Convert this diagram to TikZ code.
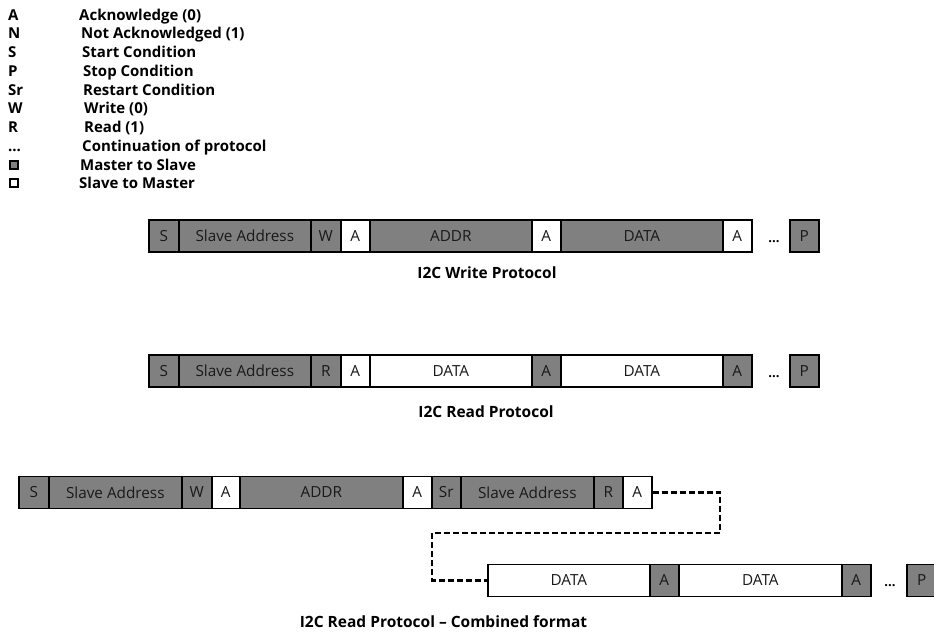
\documentclass[tikz,border=0pt]{standalone}
\usepackage{fontspec}
\setmainfont{Open Sans}
\begin{document}
\begin{tikzpicture}[x=1pt,y=-1pt,
  cellbase/.style={draw=black, line width=1.6pt, minimum height=32pt, inner sep=0pt,
    anchor=west, text=black!90, font=\fontsize{15.3}{17}\selectfont},
  mcell/.style={cellbase, fill=black!50},
  scell/.style={cellbase, fill=white},
  legtxt/.style={anchor=base west, inner sep=0pt, font=\bfseries\fontsize{15}{17}\selectfont},
  legbox/.style={draw=black, line width=1.3pt, minimum size=8pt, inner sep=0pt},
  caption/.style={anchor=base, inner sep=0pt, font=\bfseries\fontsize{15.5}{17}\selectfont},
  dots/.style={anchor=base, inner sep=0pt, font=\bfseries\fontsize{13}{15}\selectfont},
  link/.style={draw=black, line width=2.4pt, dash pattern=on 6pt off 3pt}]
\useasboundingbox (0,0) rectangle (934,633);

% cell: name, left x, width, centre y, style, label
\newcommand\pcell[6]{\node[#5, minimum width=#3pt] (#1) at (#2,#4) {#6};}

% ---- legend (positions are baselines) ----
\node[legtxt] (kA)  at (8,20.5)  {A};   \node[legtxt] (tA)  at (79,20.5)  {Acknowledge (0)};
\node[legtxt] (kN)  at (8,38.5)  {N};   \node[legtxt] (tN)  at (81,38.5)  {Not Acknowledged (1)};
\node[legtxt] (kS)  at (8,57.5)  {S};   \node[legtxt] (tS)  at (82,57.5)  {Start Condition};
\node[legtxt] (kP)  at (8,76)    {P};   \node[legtxt] (tP)  at (83,76)    {Stop Condition};
\node[legtxt] (kSr) at (8,95)    {Sr};  \node[legtxt] (tSr) at (83,95)    {Restart Condition};
\node[legtxt] (kW)  at (8,113.5) {W};   \node[legtxt] (tW)  at (84,113.5) {Write (0)};
\node[legtxt] (kR)  at (8,132.5) {R};   \node[legtxt] (tR)  at (84,132.5) {Read (1)};
\node[legtxt] (kC)  at (8,151.5) {...}; \node[legtxt] (tC)  at (82,151.5) {Continuation of protocol};
\node[legbox, fill=black!50] (kM) at (14,165) {};
\node[legtxt] (tM)  at (80,170)   {Master to Slave};
\node[legbox, fill=white] (kSl) at (14,183) {};
\node[legtxt] (tSl) at (79,188)   {Slave to Master};

% ---- I2C write protocol ----
\pcell{w1}{148}{30}{236}{mcell}{S}
\pcell{w2}{178}{132}{236}{mcell}{Slave Address}
\pcell{w3}{310}{30}{236}{mcell}{W}
\pcell{w4}{340}{29}{236}{scell}{A}
\pcell{w5}{369}{162}{236}{mcell}{ADDR}
\pcell{w6}{531}{29}{236}{scell}{A}
\pcell{w7}{560}{162}{236}{mcell}{DATA}
\pcell{w8}{722}{29}{236}{scell}{A}
\node[dots] (w9) at (774,242) {...};
\pcell{w10}{789}{29}{236}{mcell}{P}
\node[caption] (wcap) at (487,278) {I2C Write Protocol};

% ---- I2C read protocol ----
\pcell{r1}{148}{30}{371}{mcell}{S}
\pcell{r2}{178}{132}{371}{mcell}{Slave Address}
\pcell{r3}{310}{30}{371}{mcell}{R}
\pcell{r4}{340}{29}{371}{scell}{A}
\pcell{r5}{369}{162}{371}{scell}{DATA}
\pcell{r6}{531}{29}{371}{mcell}{A}
\pcell{r7}{560}{162}{371}{scell}{DATA}
\pcell{r8}{722}{29}{371}{mcell}{A}
\node[dots] (r9) at (774,377) {...};
\pcell{r10}{789}{29}{371}{mcell}{P}
\node[caption] (rcap) at (486,417.5) {I2C Read Protocol};

% ---- I2C read protocol, combined format ----
\pcell{c1}{18}{30}{492.5}{mcell}{S}
\pcell{c2}{48}{133}{492.5}{mcell}{Slave Address}
\pcell{c3}{181}{30}{492.5}{mcell}{W}
\pcell{c4}{211}{28}{492.5}{scell}{A}
\pcell{c5}{239}{163}{492.5}{mcell}{ADDR}
\pcell{c6}{402}{29}{492.5}{scell}{A}
\pcell{c7}{431}{29}{492.5}{mcell}{Sr}
\pcell{c8}{460}{133}{492.5}{mcell}{Slave Address}
\pcell{c9}{593}{29}{492.5}{mcell}{R}
\pcell{c10}{622}{29}{492.5}{scell}{A}

\pcell{d1}{487}{162}{580.5}{scell}{DATA}
\pcell{d2}{649}{29}{580.5}{mcell}{A}
\pcell{d3}{678}{163}{580.5}{scell}{DATA}
\pcell{d4}{841}{29}{580.5}{mcell}{A}
\node[dots] (d5) at (890,586.5) {...};
\pcell{d6}{906}{30}{580.5}{mcell}{P}

\coordinate (j1) at (720,492.5);
\coordinate (j2) at (720,533);
\coordinate (j3) at (432,533);
\coordinate (j4) at (432,580.5);
\draw[link] (c10.east) -- (j1) -- (j2) -- (j3) -- (j4) -- (d1.west);

\node[caption] (ccap) at (443.5,627.5) {I2C Read Protocol -- Combined format};
\end{tikzpicture}
\end{document}
